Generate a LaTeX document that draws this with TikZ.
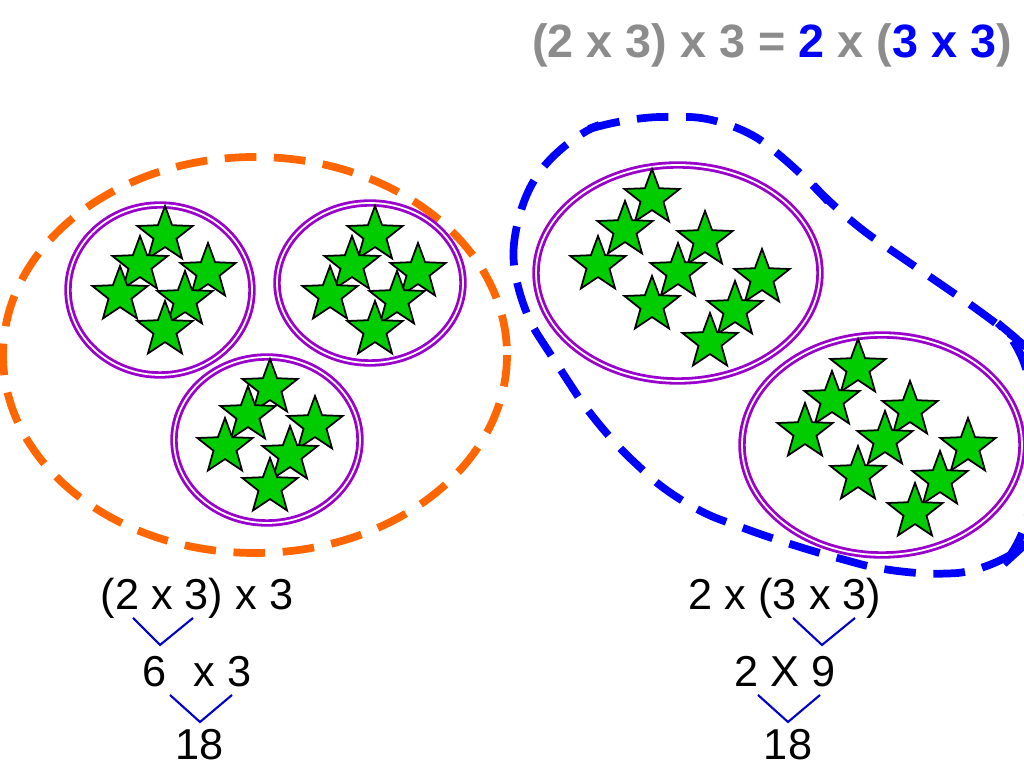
\documentclass[tikz,border=0pt]{standalone}
\usepackage{fontspec}
\setmainfont{Liberation Sans}
\usetikzlibrary{shapes.geometric}
\definecolor{grp}{RGB}{153,0,204}
\definecolor{stargreen}{RGB}{0,204,0}
\definecolor{org}{RGB}{255,102,0}
\definecolor{titlegray}{RGB}{140,140,140}
\begin{document}
\begin{tikzpicture}[x=0.01cm,y=-0.01cm,
  starnode/.style={star,star points=5,star point ratio=2.4,minimum size=0.58cm,inner sep=0pt,draw=black,fill=stargreen,line width=0.5pt},
  group/.style={draw=grp,double=white,double distance=0.5pt,line width=0.8pt},
  sumtext/.style={font=\fontsize{12.3pt}{14pt}\selectfont},
  split/.style={draw=blue!80!black,line width=0.6pt}]
  \useasboundingbox (0,0) rectangle (1024,768);
  % title
  \node (title) at (772,45) {\fontsize{13.3pt}{16pt}\selectfont\bfseries
    \textcolor{titlegray}{(2 x 3) x 3 =\ }\textcolor{blue}{2}\textcolor{titlegray}{\ x (}\textcolor{blue}{3 x 3}\textcolor{titlegray}{)}};
  % left side
  \draw[org,line width=2.2pt,dash pattern=on 9pt off 5pt] (255,355) ellipse [x radius=252,y radius=198];
  \draw[group] (160,290) ellipse [x radius=92,y radius=85];
  \draw[group] (370,283) ellipse [x radius=93,y radius=80];
  \draw[group] (267,440) ellipse [x radius=93,y radius=83];
  \foreach \x/\y in {165/235,140/265,208/272,120/295,185/300,165/330}
    \node[starnode] at (\x,\y) {};
  \foreach \x/\y in {375/235,352/265,418/272,330/295,397/300,375/330}
    \node[starnode] at (\x,\y) {};
  \foreach \x/\y in {270/388,248/415,315/425,225/447,290/455,270/487}
    \node[starnode] at (\x,\y) {};
  % right side
  \draw[blue,line width=2.2pt,dash pattern=on 9pt off 5pt,rounded corners=12pt]
    (515,300) -- (512,215) -- (560,140) -- (620,117) -- (730,117) -- (800,170) -- (840,215) -- (1000,325) -- (1030,350)
    -- (1030,540) -- (995,572) -- (900,575) -- (790,545) -- (680,505) -- (600,430) -- cycle;
  \draw[group] (678,273) ellipse [x radius=142,y radius=108];
  \draw[group] (882,445) ellipse [x radius=140,y radius=110];
  \foreach \x/\y in {652/198,625/230,705/240,598/265,678/272,762/278,652/305,735/310,710/342}
    \node[starnode] at (\x,\y) {};
  \foreach \x/\y in {858/368,832/400,910/410,805/432,885/440,968/447,858/475,940/480,915/512}
    \node[starnode] at (\x,\y) {};
  % left working
  \node[sumtext] (lone) at (197,598) {(2 x 3) x 3};
  \node[sumtext] (ltwo) at (197,672) {6\,\, x 3};
  \node[sumtext] (lres) at (200,745) {18};
  \coordinate (la) at (133,618); \coordinate (lb) at (160,645); \coordinate (lc) at (193,618);
  \coordinate (ld) at (170,695); \coordinate (le) at (200,722); \coordinate (lf) at (232,695);
  \draw[split] (la) -- (lb) -- (lc);
  \draw[split] (ld) -- (le) -- (lf);
  % right working
  \node[sumtext] (rone) at (785,598) {2 x (3 x 3)};
  \node[sumtext] (rtwo) at (785,672) {2 X 9};
  \node[sumtext] (rres) at (788,745) {18};
  \coordinate (ra) at (793,618); \coordinate (rb) at (822,645); \coordinate (rc) at (855,618);
  \coordinate (rd) at (758,695); \coordinate (re) at (788,722); \coordinate (rf) at (820,695);
  \draw[split] (ra) -- (rb) -- (rc);
  \draw[split] (rd) -- (re) -- (rf);
\end{tikzpicture}
\end{document}
